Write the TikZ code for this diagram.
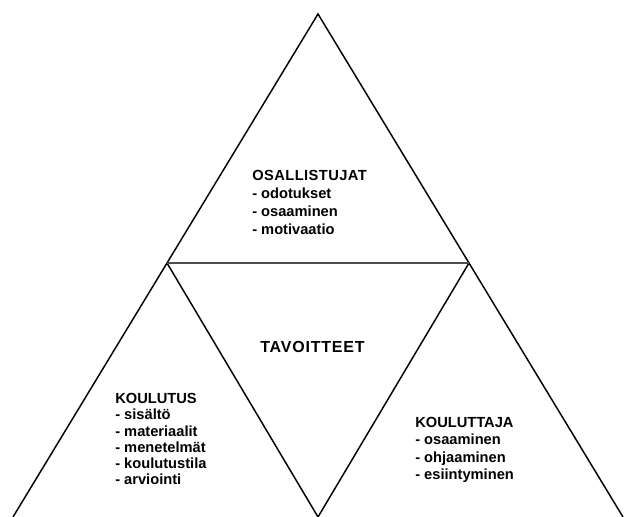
\documentclass[tikz,border=0pt]{standalone}
\usepackage{fontspec}
\setmainfont{Liberation Sans}
\usetikzlibrary{positioning}

\begin{document}
\begin{tikzpicture}[
    x=0.75pt,y=-0.75pt,
    every node/.style={font=\bfseries\fontsize{11}{13}\selectfont},
    edge/.style={line width=1.1pt,black},
    midline/.style={line width=1.5pt,black!70},
    lbl/.style={align=left,anchor=north west,inner sep=0pt}
]
\useasboundingbox (0,0) rectangle (626,517);
% outer and inner triangle corners
\coordinate (top) at (318,14);
\coordinate (bl) at (13,517);
\coordinate (br) at (623,517);
\coordinate (ml) at (167,263);
\coordinate (mr) at (469,263);
\coordinate (mb) at (318,517);

\draw[edge] (bl) -- (top) -- (br);
\draw[edge] (ml) -- (mb) -- (mr);
\draw[midline] (ml) -- (mr);

\node[lbl,font=\bfseries\fontsize{11}{13.5}\selectfont] (osall) at (252,170) {\addfontfeature{LetterSpace=3}OSALLISTUJAT\\- odotukset\\- osaaminen\\- motivaatio};
\node[lbl,font=\bfseries\fontsize{12}{13}\selectfont] (tavo) at (260,341) {\addfontfeature{LetterSpace=5}TAVOITTEET};
\node[lbl,font=\bfseries\fontsize{11}{12.2}\selectfont] (koul) at (115,393) {KOULUTUS\\- sisältö\\- materiaalit\\- menetelmät\\- koulutustila\\- arviointi};
\node[lbl] (kouta) at (415,417) {KOULUTTAJA\\- osaaminen\\- ohjaaminen\\- esiintyminen};
\end{tikzpicture}
\end{document}
